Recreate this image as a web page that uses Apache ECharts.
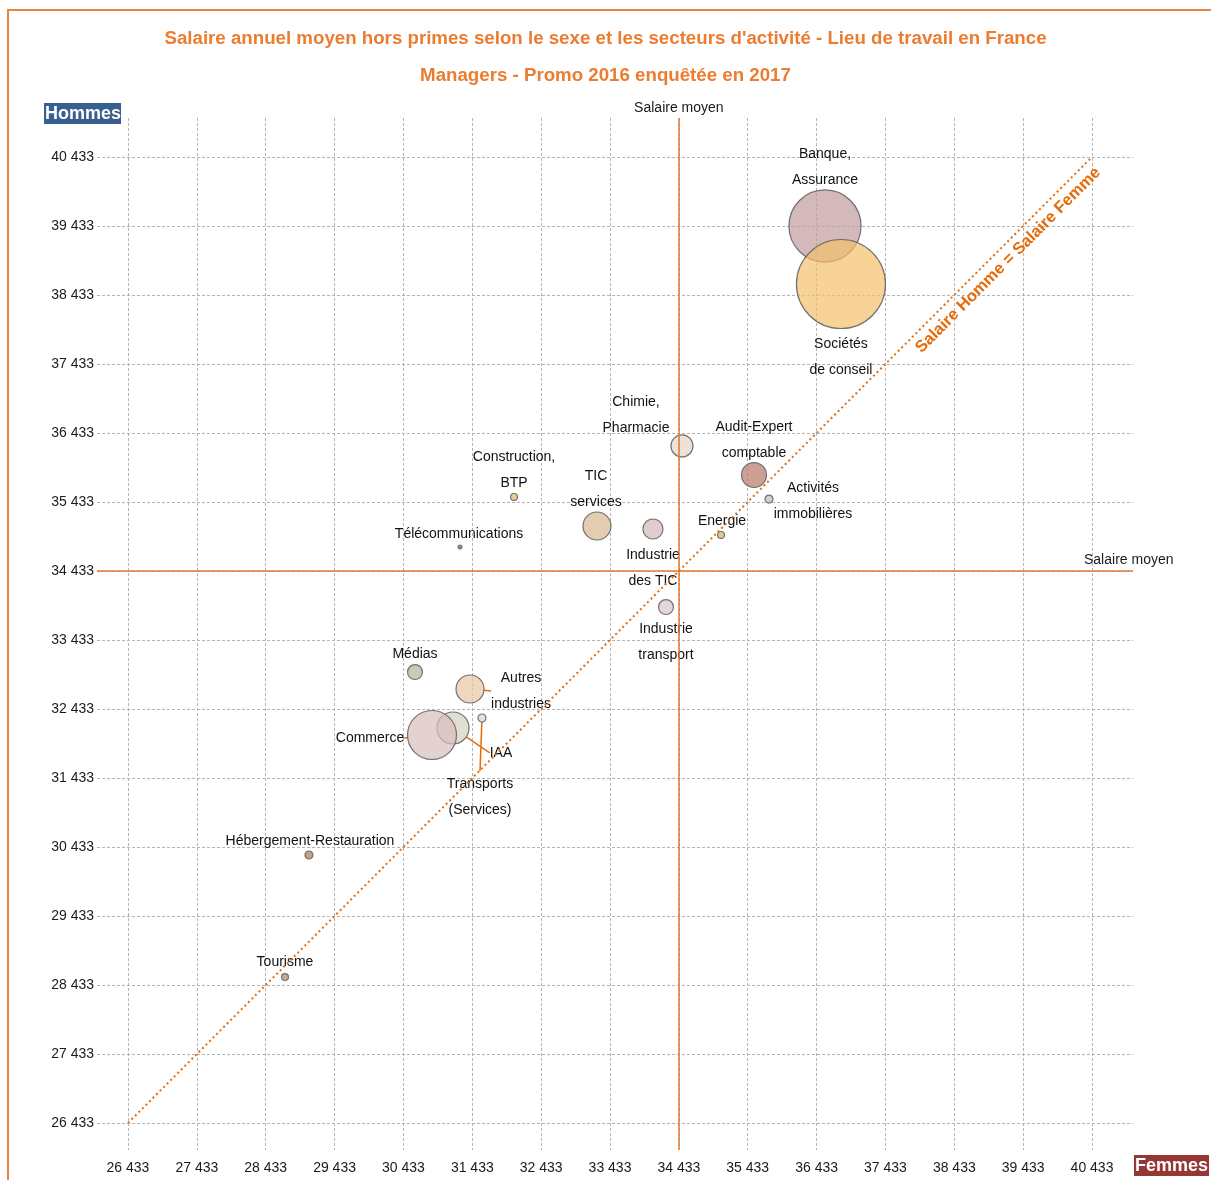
<!DOCTYPE html>
<html>
<head>
<meta charset="utf-8">
<script src="https://cdn.jsdelivr.net/npm/echarts@6/dist/echarts.min.js"></script>
<style>
  html, body { margin: 0; padding: 0; background: #fff; }
  #chart { width: 1211px; height: 1180px; }
</style>
</head>
<body>
<div id="chart"></div>
<script>
// secteurs d'activité
const sectors = [
  'Banque,\nAssurance', 'Sociétés\nde conseil', 'Chimie,\nPharmacie', 'Audit-Expert\ncomptable',
  'Activités\nimmobilières', 'Energie', 'TIC\nservices', 'Industrie\ndes TIC', 'Construction,\nBTP',
  'Télécommunications', 'Industrie\ntransport', 'Médias', 'Autres\nindustries', 'IAA',
  'Transports\n(Services)', 'Commerce', 'Hébergement-Restauration', 'Tourisme'
]
// salaire annuel moyen des femmes (axe x) et des hommes (axe y)
const salaireFemmes = [36555, 36787, 34478, 35524, 35742, 35045, 33244, 34057, 32039, 31255, 34246, 30601, 31400, 31153, 31574, 30848, 29061, 28713]
const salaireHommes = [39433, 38592, 36245, 35824, 35476, 34955, 35085, 35042, 35506, 34781, 33911, 32969, 32723, 32158, 32303, 32056, 30317, 28549]
// taille des bulles (effectifs)
const effectifs = [1300, 1980, 121, 156, 16, 12, 196, 100, 12, 4, 56, 56, 196, 256, 16, 600, 16, 12]

const salaireMoyenFemmes = 34433
const salaireMoyenHommes = 34433

// graduations
const ticks = [26433, 27433, 28433, 29433, 30433, 31433, 32433, 33433, 34433, 35433, 36433, 37433, 38433, 39433, 40433]

// styles des bulles
const bubbleColors = [
  [192, 155, 155], [243, 192, 108], [231, 212, 198], [184, 119, 105],
  [191, 191, 176], [212, 176, 105], [216, 184, 141], [212, 184, 184], [226, 184, 105],
  [105, 91, 91], [216, 198, 198], [184, 176, 155], [234, 198, 162], [212, 208, 191],
  [212, 212, 219], [216, 191, 191], [176, 119, 76], [176, 134, 119]
]
// décalage des étiquettes (px)
const labelShift = [
  [0, -59], [0, 73], [-46, -31], [0, -35],
  [44, 2], [1, -14], [-1, -37], [0, 39], [0, -27],
  [-1, -13], [0, 35], [0, -18], [51, 2], [48, 25],
  [-2, 79], [-62, 3], [1, -14], [0, -15]
]
const withLeader = ['Autres\nindustries', 'IAA', 'Transports\n(Services)', 'Commerce']

const fmt = v => String(v).replace(/\B(?=(\d{3})+(?!\d))/g, ' ')
const orange = '#e46c0a'

const myChart = echarts.init(document.getElementById('chart'))

const bubbles = sectors.map((name, i) => {
  const c = bubbleColors[i]
  const item = {
    name: name,
    value: [salaireFemmes[i], salaireHommes[i], effectifs[i]],
    itemStyle: { color: 'rgba(' + c.join(',') + ',0.7)' }
  }
  if (withLeader.includes(name)) {
    item.labelLine = { show: true, lineStyle: { color: orange, width: 1.5 } }
  }
  return item
})

const gridLine = { show: true, lineStyle: { color: '#b4b4b4', type: [3, 2], width: 1 } }

const option = {
  backgroundColor: '#fff',
  animation: false,
  title: [
    {
      text: "Salaire annuel moyen hors primes selon le sexe et les secteurs d'activité - Lieu de travail en France",
      left: 'center', top: 24,
      textStyle: { color: '#ec7c30', fontSize: 18.7, fontWeight: 'bold', fontFamily: 'Liberation Sans' }
    },
    {
      text: 'Managers - Promo 2016 enquêtée en 2017',
      left: 'center', top: 61,
      textStyle: { color: '#ec7c30', fontSize: 18.7, fontWeight: 'bold', fontFamily: 'Liberation Sans' }
    }
  ],
  grid: { left: 97, right: 78, top: 118, bottom: 30 },
  xAxis: {
    type: 'value',
    min: 25983,
    max: 41028,
    axisLine: { show: false },
    axisTick: { show: false, customValues: ticks },
    axisLabel: {
      customValues: ticks,
      formatter: fmt,
      margin: 11,
      color: '#1a1a1a',
      fontSize: 14,
      fontFamily: 'Liberation Sans'
    },
    splitLine: gridLine
  },
  yAxis: {
    type: 'value',
    min: 26042,
    max: 40998,
    axisLine: { show: false },
    axisTick: { show: false, customValues: ticks },
    axisLabel: {
      customValues: ticks,
      formatter: fmt,
      margin: 3,
      color: '#1a1a1a',
      fontSize: 14,
      fontFamily: 'Liberation Sans'
    },
    splitLine: gridLine
  },
  graphic: [
    {
      type: 'rect',
      shape: { x: 8, y: 10, width: 1400, height: 1400 },
      style: { fill: 'none', stroke: '#e8843c', lineWidth: 2 },
      silent: true
    },
    {
      type: 'text', left: 44, top: 103,
      style: {
        text: 'Hommes', fill: '#fff', font: "bold 18px 'Liberation Sans'",
        backgroundColor: '#375f8f', padding: [2, 0, 1, 1]
      }
    },
    {
      type: 'text', left: 1134, top: 1155,
      style: {
        text: 'Femmes', fill: '#fff', font: "bold 18px 'Liberation Sans'",
        backgroundColor: '#953735', padding: [2, 1, 1, 1]
      }
    }
  ],
  series: [
    {
      name: 'references',
      type: 'scatter',
      data: [],
      silent: true,
      markLine: {
        silent: true,
        symbol: 'none',
        animation: false,
        data: [
          {
            xAxis: salaireMoyenFemmes,
            lineStyle: { color: '#e07a35', width: 1.5, type: 'solid' },
            label: {
              position: 'end', formatter: 'Salaire moyen', distance: 3,
              color: '#1a1a1a', fontSize: 14, fontFamily: 'Liberation Sans'
            }
          },
          {
            yAxis: salaireMoyenHommes,
            lineStyle: { color: '#e07a35', width: 1.5, type: 'solid' },
            label: {
              position: 'end', formatter: 'Salaire moyen', distance: 5, offset: [-54, -11],
              color: '#1a1a1a', fontSize: 14, fontFamily: 'Liberation Sans'
            }
          },
          [
            {
              coord: [ticks[0], ticks[0]],
              lineStyle: { color: orange, width: 2, type: [2, 3] },
              label: {
                position: 'insideEndBottom', formatter: 'Salaire Homme = Salaire Femme',
                color: orange, fontSize: 16.5, fontWeight: 'bold', fontFamily: 'Liberation Sans',
                distance: 5
              }
            },
            { coord: [ticks[ticks.length - 1], ticks[ticks.length - 1]] }
          ]
        ]
      }
    },
    {
      name: 'secteurs',
      type: 'scatter',
      data: bubbles,
      symbolSize: val => 2 * Math.sqrt(val[2]),
      itemStyle: { borderColor: 'rgba(100,100,100,0.9)', borderWidth: 1.2, opacity: 1 },
      label: {
        show: true,
        position: 'inside',
        formatter: p => p.name,
        color: '#111',
        opacity: 1,
        fontSize: 14,
        lineHeight: 26,
        fontFamily: 'Liberation Sans'
      },
      labelLayout: params => ({ dx: labelShift[params.dataIndex][0], dy: labelShift[params.dataIndex][1] }),
      emphasis: { disabled: true },
      z: 3
    }
  ]
}

myChart.setOption(option)

window.addEventListener('resize', function () {
  myChart.resize()
})
</script>
</body>
</html>
